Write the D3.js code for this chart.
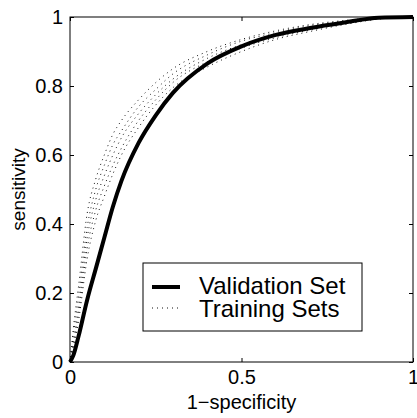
<!DOCTYPE html>
<html><head><meta charset="utf-8">
<script src="https://cdn.jsdelivr.net/npm/d3@7"></script>
<style>
html,body{margin:0;padding:0;background:#fff;}
svg{display:block;font-family:"Liberation Sans",Arial,Helvetica,sans-serif;}
</style></head>
<body>
<script>
// ---- data ----
const fpr = [0, 0.01, 0.025, 0.05, 0.075, 0.1, 0.125, 0.15, 0.2, 0.25, 0.3, 0.4, 0.5, 0.6, 0.7, 0.8, 0.9, 1.0];
const validation = [0, 0.02, 0.075, 0.18, 0.27, 0.36, 0.45, 0.525, 0.635, 0.715, 0.78, 0.865, 0.915, 0.948, 0.968, 0.984, 0.998, 1];
const training1 = [0, 0.10, 0.22, 0.43, 0.53, 0.60, 0.66, 0.70, 0.76, 0.81, 0.85, 0.90, 0.935, 0.96, 0.978, 0.99, 0.998, 1];
const training2 = [0, 0.08, 0.19, 0.39, 0.50, 0.57, 0.63, 0.67, 0.74, 0.79, 0.835, 0.89, 0.93, 0.955, 0.975, 0.988, 0.997, 1];
const training3 = [0, 0.06, 0.16, 0.36, 0.47, 0.54, 0.60, 0.65, 0.72, 0.775, 0.82, 0.88, 0.92, 0.95, 0.97, 0.985, 0.996, 1];
const training4 = [0, 0.05, 0.14, 0.33, 0.44, 0.51, 0.57, 0.62, 0.70, 0.76, 0.81, 0.87, 0.91, 0.94, 0.962, 0.98, 0.995, 1];
const training5 = [0, 0.04, 0.12, 0.30, 0.41, 0.48, 0.545, 0.60, 0.68, 0.745, 0.795, 0.855, 0.90, 0.935, 0.958, 0.978, 0.994, 1];
const trainingSets = [training1, training2, training3, training4, training5];
const xTicks = [0, 0.5, 1];
const yTicks = [0, 0.2, 0.4, 0.6, 0.8, 1];
const xTickLabels = ["0", "0.5", "1"];
const yTickLabels = ["0", "0.2", "0.4", "0.6", "0.8", "1"];
const legendLabels = ["Validation Set", "Training Sets"];
const xTitle = "1\u2212specificity";
const yTitle = "sensitivity";

// ---- layout ----
const W = 417, H = 418;
const L = 70, R = 413, T = 17, B = 362;
const svg = d3.select("body").append("svg").attr("width", W).attr("height", H);
const x = d3.scaleLinear().domain([0, 1]).range([L, R]);
const y = d3.scaleLinear().domain([0, 1]).range([B, T]);

const line = d3.line().x((d, i) => x(fpr[i])).y(d => y(d)).curve(d3.curveMonotoneX);

// training curves (dotted)
trainingSets.forEach(s => {
  svg.append("path").attr("d", line(s)).attr("fill", "none")
    .attr("stroke", "#111").attr("stroke-width", 1).attr("stroke-dasharray", "1,4");
});
// validation curve
svg.append("path").attr("d", line(validation)).attr("fill", "none")
  .attr("stroke", "#000").attr("stroke-width", 4).attr("stroke-linejoin", "round");

// axes box
svg.append("rect").attr("x", L).attr("y", T).attr("width", R - L).attr("height", B - T)
  .attr("fill", "none").attr("stroke", "#000").attr("stroke-width", 1);

const fs = 20;
const axB = d3.axisBottom(x).tickValues(xTicks).tickSize(-4).tickPadding(8)
  .tickFormat((d, i) => xTickLabels[i]);
const gB = svg.append("g").attr("transform", `translate(0,${B})`).call(axB);
const axT = d3.axisTop(x).tickValues(xTicks).tickSize(-4).tickFormat("");
const gT = svg.append("g").attr("transform", `translate(0,${T})`).call(axT);
const axLf = d3.axisLeft(y).tickValues(yTicks).tickSize(-4).tickPadding(7)
  .tickFormat((d, i) => yTickLabels[i]);
const gL = svg.append("g").attr("transform", `translate(${L},0)`).call(axLf);
const axRt = d3.axisRight(y).tickValues(yTicks).tickSize(-4).tickFormat("");
const gR = svg.append("g").attr("transform", `translate(${R},0)`).call(axRt);
[gB, gT, gL, gR].forEach(g => {
  g.select(".domain").remove();
  g.selectAll("line").attr("stroke", "#000");
  g.selectAll("text").attr("font-size", fs).attr("fill", "#000")
    .attr("font-family", '"Liberation Sans",Arial,Helvetica,sans-serif');
});
gB.selectAll("text").attr("dy", "0.71em");

// axis titles
svg.append("text").attr("x", (L + R) / 2).attr("y", 409).attr("text-anchor", "middle")
  .attr("font-size", 20).text(xTitle);
svg.append("text").attr("transform", `translate(25,${(T + B) / 2}) rotate(-90)`)
  .attr("text-anchor", "middle").attr("font-size", 19).text(yTitle);

// legend
const lg = svg.append("g");
lg.append("rect").attr("x", 143).attr("y", 263).attr("width", 219).attr("height", 68)
  .attr("fill", "#fff").attr("stroke", "#000").attr("stroke-width", 1);
lg.append("line").attr("x1", 152).attr("x2", 180).attr("y1", 287).attr("y2", 287)
  .attr("stroke", "#000").attr("stroke-width", 4);
lg.append("line").attr("x1", 152).attr("x2", 180).attr("y1", 308).attr("y2", 308)
  .attr("stroke", "#111").attr("stroke-width", 1).attr("stroke-dasharray", "1,4");
lg.selectAll("text.lab").data(legendLabels).enter().append("text").attr("class", "lab")
  .attr("x", 199).attr("y", (d, i) => 294 + i * 23).attr("font-size", 24).text(d => d);
</script>
</body></html>
